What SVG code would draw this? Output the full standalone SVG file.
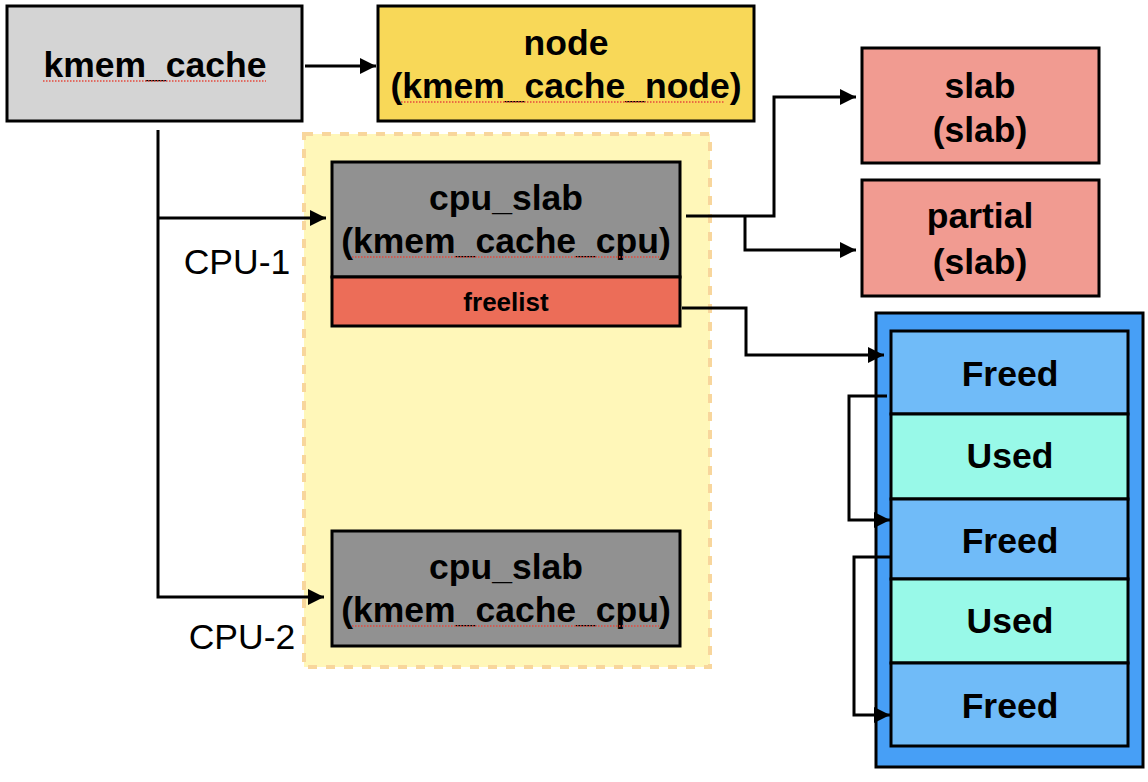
<svg xmlns="http://www.w3.org/2000/svg" width="1148" height="782" viewBox="0 0 1148 782">
<style>
  .box { stroke: #000; stroke-width: 3; }
  .t { font-family: "Liberation Sans", Arial, sans-serif; font-size: 35.5px; font-weight: bold; text-anchor: middle; fill: #000; }
  .lbl { font-family: "Liberation Sans", Arial, sans-serif; font-size: 35.5px; text-anchor: middle; fill: #000; }
  .small { font-size: 26px; }
  .conn { fill: none; stroke: #000; stroke-width: 3; }
  .spell { stroke: #e5483c; stroke-width: 1.5; stroke-dasharray: 1.5 1.5; fill: none; }
</style>
<defs>
  <marker id="arr" viewBox="0 0 10 10" refX="10" refY="5" markerWidth="5.5" markerHeight="5.5" markerUnits="strokeWidth" orient="auto">
    <path d="M0,0 L10,5 L0,10 z" fill="#000"/>
  </marker>
</defs>
<rect width="1148" height="782" fill="#fff"/>

<g id="percpu-area">
  <rect x="304" y="134" width="406" height="533" fill="#fff7b9" stroke="#f8d69c" stroke-width="4" stroke-dasharray="9 9"/>
</g>

<g id="kmem_cache">
  <rect class="box" x="7" y="6" width="295" height="115" fill="#d4d4d4"/>
  <text class="t" x="155" y="77">kmem_cache</text>
</g>

<g id="node">
  <rect class="box" x="378" y="6" width="376" height="115" fill="#f8d858"/>
  <text class="t" x="566" y="55">node</text>
  <text class="t" x="566" y="98">(kmem_cache_node)</text>
</g>

<g id="cpu_slab_1">
  <rect class="box" x="332" y="162" width="348" height="115" fill="#919191"/>
  <text class="t" x="506" y="210">cpu_slab</text>
  <text class="t" x="506" y="253">(kmem_cache_cpu)</text>
</g>

<g id="freelist">
  <rect class="box" x="332" y="277" width="348" height="49" fill="#ec6d58"/>
  <text class="t small" x="506" y="311">freelist</text>
</g>

<g id="cpu_slab_2">
  <rect class="box" x="332" y="531" width="348" height="115" fill="#919191"/>
  <text class="t" x="506" y="579">cpu_slab</text>
  <text class="t" x="506" y="622">(kmem_cache_cpu)</text>
</g>

<g id="slab">
  <rect class="box" x="862" y="48" width="237" height="115" fill="#f19b91"/>
  <text class="t" x="980" y="98">slab</text>
  <text class="t" x="980" y="142">(slab)</text>
</g>

<g id="partial">
  <rect class="box" x="862" y="180" width="237" height="116" fill="#f19b91"/>
  <text class="t" x="980" y="228">partial</text>
  <text class="t" x="980" y="274">(slab)</text>
</g>

<g id="slab-page">
  <rect class="box" x="876" y="313" width="267" height="454" fill="#479ff6"/>
</g>
<g id="obj-1">
  <rect class="box" x="891" y="331" width="237" height="83" fill="#70bbf8"/>
  <text class="t" x="1010" y="386">Freed</text>
</g>
<g id="obj-2">
  <rect class="box" x="891" y="414" width="237" height="85" fill="#98f9e8"/>
  <text class="t" x="1010" y="468">Used</text>
</g>
<g id="obj-3">
  <rect class="box" x="891" y="499" width="237" height="80" fill="#70bbf8"/>
  <text class="t" x="1010" y="553">Freed</text>
</g>
<g id="obj-4">
  <rect class="box" x="891" y="579" width="237" height="84" fill="#98f9e8"/>
  <text class="t" x="1010" y="633">Used</text>
</g>
<g id="obj-5">
  <rect class="box" x="891" y="663" width="237" height="83" fill="#70bbf8"/>
  <text class="t" x="1010" y="718">Freed</text>
</g>

<g id="labels">
  <text class="lbl" x="237" y="274">CPU-1</text>
  <text class="lbl" x="242" y="649">CPU-2</text>
</g>

<g id="connectors">
  <path class="conn" d="M305,66 L376,66" marker-end="url(#arr)"/>
  <path class="conn" d="M158,130 L158,597 L324,597" marker-end="url(#arr)"/>
  <path class="conn" d="M158,218 L326,218" marker-end="url(#arr)"/>
  <path class="conn" d="M686,216 L774,216 L774,97 L856,97" marker-end="url(#arr)"/>
  <path class="conn" d="M745,216 L745,250 L856,250" marker-end="url(#arr)"/>
  <path class="conn" d="M682,308 L746,308 L746,355 L884,355" marker-end="url(#arr)"/>
  <path class="conn" d="M887,396 L849,396 L849,520 L890,520" marker-end="url(#arr)"/>
  <path class="conn" d="M891,557 L854,557 L854,715 L890,715" marker-end="url(#arr)"/>
</g>

<g id="spellcheck-marks">
  <line class="spell" x1="43" y1="81" x2="266" y2="81"/>
  <line class="spell" x1="401" y1="102" x2="724" y2="102"/>
  <line class="spell" x1="352" y1="257" x2="659" y2="257"/>
  <line class="spell" x1="352" y1="626" x2="659" y2="626"/>
</g>
</svg>
